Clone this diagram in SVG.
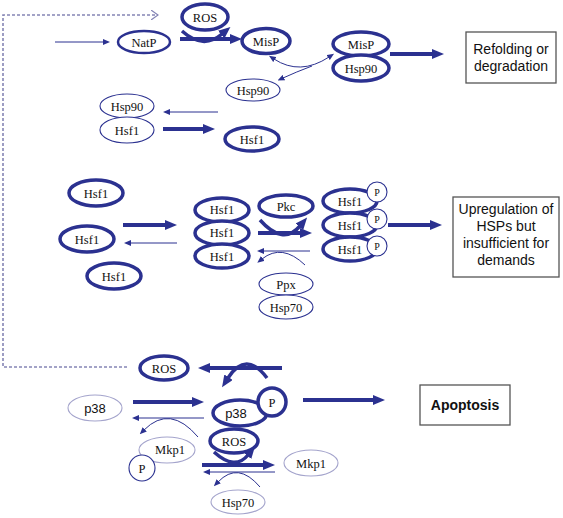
<svg xmlns="http://www.w3.org/2000/svg" width="563" height="518" viewBox="0 0 563 518">
<defs>
<style>
.tk{fill:#fff;stroke:#2b3190;stroke-width:3.5}
.md{fill:#fff;stroke:#2b3190;stroke-width:2.5}
.tn{fill:#fff;stroke:#2b3190;stroke-width:1.1}
.lt{fill:#fff;stroke:#a4a4cc;stroke-width:1.1}
.lb{font-family:"Liberation Serif","Times New Roman",serif;font-size:12.5px;fill:#111;text-anchor:middle}
.ls{font-family:"Liberation Sans",Arial,sans-serif;font-size:13px;fill:#111;text-anchor:middle}
.bx{fill:#fff;stroke:#555;stroke-width:1.3}
.bt{font-family:"Liberation Sans",Arial,sans-serif;font-size:14px;fill:#111;text-anchor:middle}
.ak{stroke:#2b3190;stroke-width:4;fill:none;marker-end:url(#ah)}
.at{stroke:#2b3190;stroke-width:1;fill:none;marker-end:url(#atn)}
.ac{stroke:#2b3190;stroke-width:3.5;fill:none;marker-end:url(#ah)}
</style>
<marker id="ah" markerUnits="userSpaceOnUse" markerWidth="12" markerHeight="10" refX="1" refY="5" orient="auto"><path d="M0,0 L12,5 L0,10 z" fill="#2b3190"/></marker>
<marker id="atn" markerUnits="userSpaceOnUse" markerWidth="7" markerHeight="6" refX="1" refY="3" orient="auto"><path d="M0,0 L7,3 L0,6 z" fill="#2b3190"/></marker>
<marker id="ats" markerUnits="userSpaceOnUse" markerWidth="7" markerHeight="6" refX="1" refY="3" orient="auto-start-reverse"><path d="M0,0 L7,3 L0,6 z" fill="#2b3190"/></marker>
<marker id="chev" markerUnits="userSpaceOnUse" markerWidth="8" markerHeight="10" refX="7" refY="5" orient="auto"><path d="M0,0 L7,5 L0,10" fill="none" stroke="#8585b5" stroke-width="1.2"/></marker>
</defs>

<g id="connectors">
<path d="M127,367 H3 V15 H158" fill="none" stroke="#8585b5" stroke-width="1.6" stroke-dasharray="3,2" marker-end="url(#chev)"/>
<line class="at" x1="55" y1="42" x2="104" y2="42"/>
<line class="ak" x1="180" y1="39" x2="231" y2="39"/>
<path class="ac" d="M182,31 Q203,50 222,34"/>
<path d="M329,57 Q300,76 274,59" fill="none" stroke="#2b3190" stroke-width="1" marker-end="url(#atn)" marker-start="url(#ats)"/>
<path class="at" d="M312,66 Q296,72 283,78"/>
<line class="ak" x1="390" y1="54" x2="433" y2="54"/>
<line class="at" x1="218" y1="112" x2="169" y2="112"/>
<line class="ak" x1="163" y1="129" x2="204" y2="129"/>
<line class="ak" x1="123" y1="225" x2="166" y2="225"/>
<line class="at" x1="177" y1="243" x2="130" y2="243"/>
<line class="ak" x1="258" y1="233" x2="301" y2="233"/>
<path class="ac" d="M260,220 Q283,246 300,226"/>
<line class="at" x1="310" y1="251" x2="263" y2="251"/>
<path class="at" d="M305,265 Q282,243 262,259"/>
<line class="ak" x1="388" y1="225" x2="431" y2="225"/>
<line class="ak" x1="282" y1="368" x2="209" y2="368"/>
<path class="ac" d="M267,378 Q246,350 228,378"/>
<line class="ak" x1="133" y1="402" x2="193" y2="402"/>
<line class="at" x1="204" y1="418" x2="138" y2="418"/>
<line class="ak" x1="303" y1="400" x2="374" y2="400"/>
<path class="at" d="M198,437 Q170,404 144,430"/>
<line class="ak" x1="202" y1="465" x2="264" y2="465"/>
<path class="ac" d="M214,452 Q235,471 248,455"/>
<line class="at" x1="275" y1="472" x2="209" y2="472"/>
<path class="at" d="M260,487 Q238,461 218,482"/>
</g>

<g id="ros-top"><ellipse class="tk" cx="205" cy="17" rx="23" ry="13"/><text class="lb" x="205" y="21.5">ROS</text></g>
<g id="natp"><ellipse class="md" cx="144" cy="42" rx="26" ry="11"/><text class="lb" x="144" y="46.5">NatP</text></g>
<g id="misp"><ellipse class="tk" cx="266" cy="41" rx="24" ry="12.5"/><text class="lb" x="266" y="45.5">MisP</text></g>
<g id="misp-hsp90">
<ellipse class="tk" cx="361" cy="44" rx="28" ry="12"/><text class="lb" x="361" y="48.5">MisP</text>
<ellipse class="tk" cx="361" cy="68" rx="28" ry="13"/><text class="lb" x="361" y="72.5">Hsp90</text>
</g>
<g id="box-refolding"><rect class="bx" x="466" y="32" width="90" height="51"/><text class="bt" x="511" y="54">Refolding or</text><text class="bt" x="511" y="71">degradation</text></g>
<g id="hsp90-free"><ellipse class="tn" cx="253" cy="90" rx="27" ry="11"/><text class="lb" x="253" y="94.5">Hsp90</text></g>
<g id="hsp90-hsf1">
<ellipse class="tn" cx="127" cy="106" rx="27" ry="12"/><text class="lb" x="127" y="110.5">Hsp90</text>
<ellipse class="tn" cx="127" cy="130" rx="27" ry="13"/><text class="lb" x="127" y="134.5">Hsf1</text>
</g>
<g id="hsf1-released"><ellipse class="tk" cx="252" cy="139" rx="27" ry="12"/><text class="lb" x="252" y="143.5">Hsf1</text></g>

<g id="hsf1-a"><ellipse class="tk" cx="96" cy="193" rx="27" ry="13"/><text class="lb" x="96" y="197.5">Hsf1</text></g>
<g id="hsf1-b"><ellipse class="tk" cx="87" cy="239" rx="27" ry="13"/><text class="lb" x="87" y="243.5">Hsf1</text></g>
<g id="hsf1-c"><ellipse class="tk" cx="114" cy="276" rx="27" ry="13"/><text class="lb" x="114" y="280.5">Hsf1</text></g>
<g id="hsf1-trimer">
<ellipse class="tk" cx="222" cy="210" rx="27" ry="12"/><text class="lb" x="222" y="214">Hsf1</text>
<ellipse class="tk" cx="222" cy="233" rx="27" ry="12"/><text class="lb" x="222" y="237">Hsf1</text>
<ellipse class="tk" cx="222" cy="256" rx="27" ry="12"/><text class="lb" x="222" y="260.5">Hsf1</text>
</g>
<g id="pkc"><ellipse class="tk" cx="286" cy="206" rx="27" ry="11"/><text class="lb" x="286" y="210.5">Pkc</text></g>
<g id="ppx-hsp70">
<ellipse class="tn" cx="286" cy="284" rx="27" ry="11"/><text class="lb" x="286" y="288.5">Ppx</text>
<ellipse class="tn" cx="286" cy="307" rx="27" ry="12"/><text class="lb" x="286" y="311.5">Hsp70</text>
</g>
<g id="hsf1-p-trimer">
<ellipse class="tk" cx="350" cy="201" rx="27" ry="12"/><text class="lb" x="350" y="205.5">Hsf1</text>
<ellipse class="tk" cx="350" cy="225" rx="27" ry="12"/><text class="lb" x="350" y="229.5">Hsf1</text>
<ellipse class="tk" cx="350" cy="249" rx="27" ry="12"/><text class="lb" x="350" y="253.5">Hsf1</text>
<circle class="tn" cx="377" cy="192" r="10"/><text class="lb" x="377" y="196" style="font-size:10px">P</text>
<circle class="tn" cx="377" cy="219" r="10"/><text class="lb" x="377" y="223" style="font-size:10px">P</text>
<circle class="tn" cx="377" cy="246" r="10"/><text class="lb" x="377" y="250" style="font-size:10px">P</text>
</g>
<g id="box-upregulation"><rect class="bx" x="453" y="197" width="106" height="80"/>
<text class="bt" x="506" y="214">Upregulation of</text><text class="bt" x="506" y="231">HSPs but</text><text class="bt" x="506" y="248">insufficient for</text><text class="bt" x="506" y="265">demands</text></g>

<g id="ros-mid"><ellipse class="tk" cx="164" cy="368" rx="24" ry="12"/><text class="lb" x="164" y="372.5">ROS</text></g>
<g id="p38"><ellipse class="lt" cx="95" cy="408" rx="27" ry="13"/><text class="ls" x="95" y="413">p38</text></g>
<g id="p38-p">
<ellipse class="tk" cx="240" cy="413" rx="27" ry="13"/><text class="ls" x="236" y="418">p38</text>
<circle class="tk" cx="272" cy="402" r="14"/><text class="lb" x="272" y="406.5">P</text>
</g>
<g id="box-apoptosis"><rect class="bx" x="420" y="385" width="90" height="40"/><text class="bt" x="465" y="410" style="font-weight:bold">Apoptosis</text></g>
<g id="mkp1-p">
<ellipse class="lt" cx="167" cy="450" rx="28" ry="13"/><text class="lb" x="170" y="454">Mkp1</text>
<circle class="tn" cx="142" cy="468" r="13"/><text class="lb" x="142" y="472.5">P</text>
</g>
<g id="ros-bottom"><ellipse class="tk" cx="234" cy="441" rx="24" ry="12"/><text class="lb" x="234" y="445.5">ROS</text></g>
<g id="mkp1"><ellipse class="lt" cx="311" cy="463" rx="27" ry="13"/><text class="lb" x="311" y="467.5">Mkp1</text></g>
<g id="hsp70-bottom"><ellipse class="lt" cx="238" cy="502" rx="27" ry="12"/><text class="lb" x="238" y="506.5">Hsp70</text></g>
</svg>
